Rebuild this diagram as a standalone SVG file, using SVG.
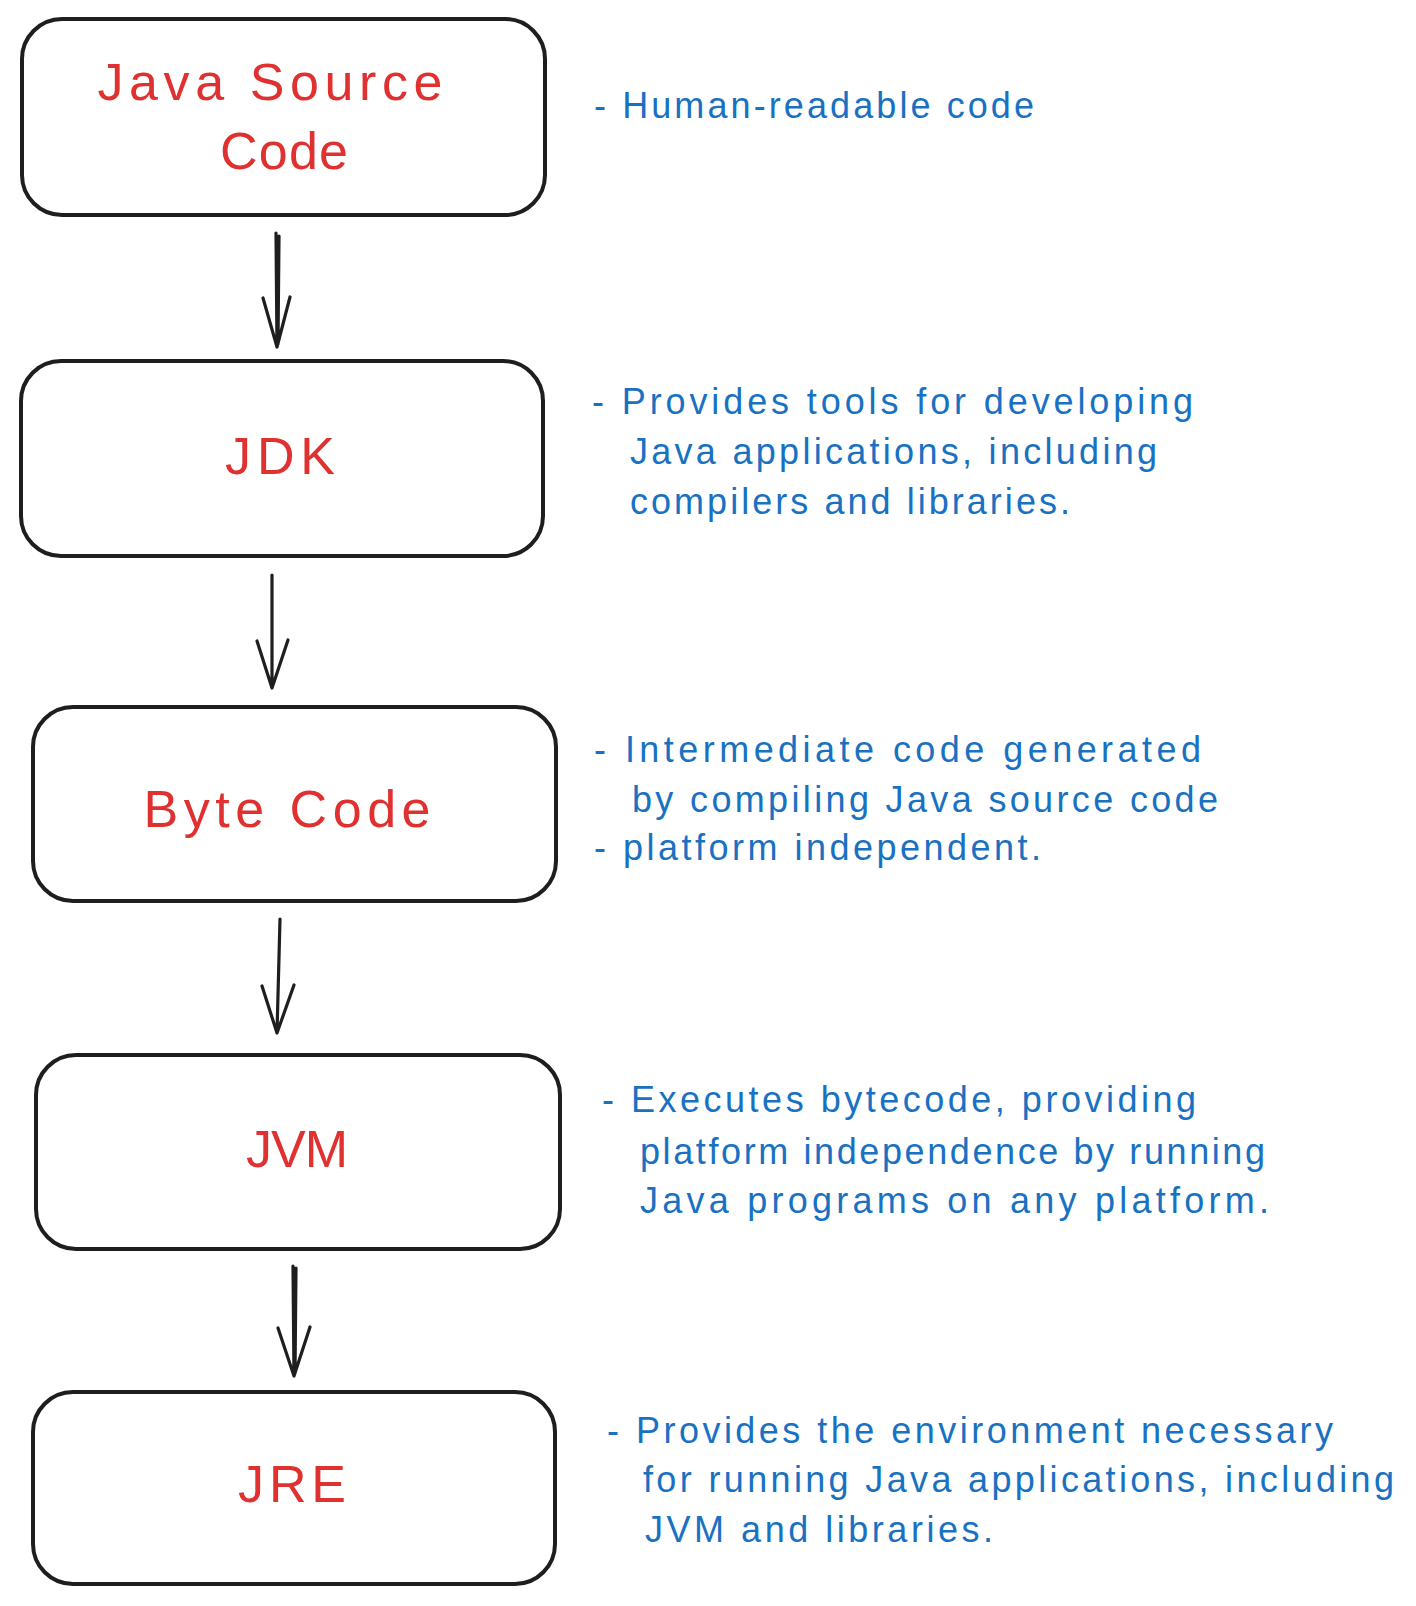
<svg xmlns="http://www.w3.org/2000/svg" width="1416" height="1606" viewBox="0 0 1416 1606">
<style>
.box{fill:#ffffff;stroke:#1e1e1e;stroke-width:4}
.lbl{fill:#e03131;font-family:"Liberation Sans","DejaVu Sans",sans-serif;font-size:52px;text-anchor:middle}
.note{fill:#1971c2;font-family:"Liberation Sans","DejaVu Sans",sans-serif;font-size:36px}
.con{fill:none;stroke:#1e1e1e;stroke-width:3.2;stroke-linecap:round;stroke-linejoin:round}
</style>
<rect width="1416" height="1606" fill="#ffffff"/>
<g id="java-source">
<rect class="box" x="22" y="19" width="523" height="196" rx="40"/>
<text class="lbl" x="270" y="100" textLength="345" lengthAdjust="spacing">Java Source</text>
<text class="lbl" x="284" y="169" textLength="128" lengthAdjust="spacing">Code</text>
</g>
<g id="jdk">
<rect class="box" x="21" y="361" width="522" height="195" rx="40"/>
<text class="lbl" x="280" y="474" textLength="110" lengthAdjust="spacing">JDK</text>
</g>
<g id="bytecode">
<rect class="box" x="33" y="707" width="523" height="194" rx="40"/>
<text class="lbl" x="287" y="827" textLength="287" lengthAdjust="spacing">Byte Code</text>
</g>
<g id="jvm">
<rect class="box" x="36" y="1055" width="524" height="194" rx="40"/>
<text class="lbl" x="297" y="1167" textLength="102" lengthAdjust="spacing">JVM</text>
</g>
<g id="jre">
<rect class="box" x="33" y="1392" width="522" height="192" rx="40"/>
<text class="lbl" x="292" y="1502" textLength="108" lengthAdjust="spacing">JRE</text>
</g>
<g id="connectors">
<path class="con" d="M276 233 L277 347 M279 236 L278 344 M263 298 L277 347 L290 297"/>
<path class="con" d="M272 575 L272 688 M257 641 L272 688 L288 640"/>
<path class="con" d="M280 919 L277 1033 M262 986 L277 1033 L294 985"/>
<path class="con" d="M293 1266 L294 1376 M296 1268 L295 1373 M278 1328 L294 1376 L310 1327"/>
</g>
<g id="notes">
<text class="note" x="594" y="118" textLength="440" lengthAdjust="spacing">- Human-readable code</text>
<text class="note" x="592" y="414" textLength="601" lengthAdjust="spacing">- Provides tools for developing</text>
<text class="note" x="630" y="464" textLength="527" lengthAdjust="spacing">Java applications, including</text>
<text class="note" x="630" y="514" textLength="440" lengthAdjust="spacing">compilers and libraries.</text>
<text class="note" x="594" y="762" textLength="607" lengthAdjust="spacing">- Intermediate code generated</text>
<text class="note" x="632" y="812" textLength="586" lengthAdjust="spacing">by compiling Java source code</text>
<text class="note" x="594" y="860" textLength="447" lengthAdjust="spacing">- platform independent.</text>
<text class="note" x="602" y="1112" textLength="594" lengthAdjust="spacing">- Executes bytecode, providing</text>
<text class="note" x="640" y="1164" textLength="625" lengthAdjust="spacing">platform independence by running</text>
<text class="note" x="640" y="1213" textLength="629" lengthAdjust="spacing">Java programs on any platform.</text>
<text class="note" x="607" y="1443" textLength="726" lengthAdjust="spacing">- Provides the environment necessary</text>
<text class="note" x="643" y="1492" textLength="751" lengthAdjust="spacing">for running Java applications, including</text>
<text class="note" x="645" y="1542" textLength="348" lengthAdjust="spacing">JVM and libraries.</text>
</g>
</svg>
